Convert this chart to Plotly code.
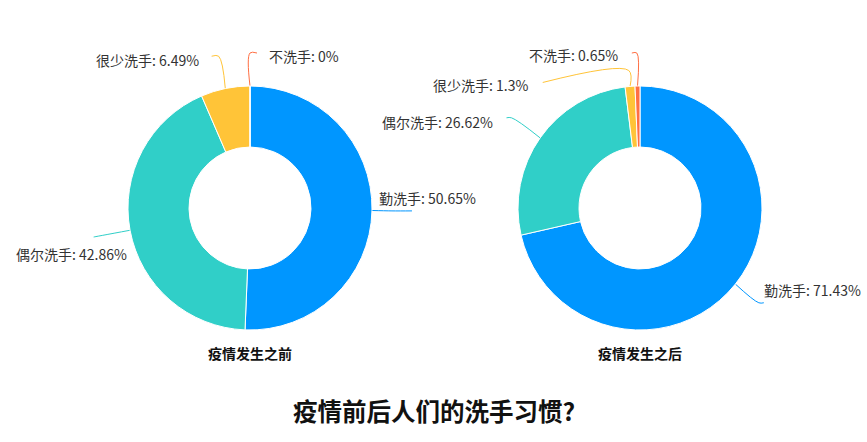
import math
import plotly.graph_objects as go

categories = ["勤洗手", "偶尔洗手", "很少洗手", "不洗手"]
before = [50.65, 42.86, 6.49, 0]
after = [71.43, 26.62, 1.3, 0.65]
subtitles = ["疫情发生之前", "疫情发生之后"]
title = "疫情前后人们的洗手习惯?"

colors = ["#0096FF", "#30CFC8", "#FFC438", "#FF6F43"]
font = "Noto Sans CJK SC, Microsoft YaHei, sans-serif"

W, H = 867, 442
R = 122
centers = [(250, 208), (640, 208)]

# leader lines: radial length, horizontal length, vertical shift of the end
line_geo = [
    [(20, 20, 0), (37, 0, 0), (33, 7, 0), (33, 7, 0)],
    [(30, 5, 0), (35, 5, 0), (16, 86, 12), (33, 5, 0)],
]
# text offset from the end of its leader line
text_off = [
    [(-35, -13), (35, 17), (-11, 4), (10, 3)],
    [(-2, -13), (-11, 4), (-13, 3), (-12, 2)],
]

fig = go.Figure()
annotations = []

for i, values in enumerate([before, after]):
    cx, cy = centers[i]
    fig.add_trace(go.Pie(
        labels=categories, values=values,
        hole=0.5, sort=False, direction="clockwise", rotation=0,
        marker=dict(colors=colors, line=dict(color="white", width=1)),
        textinfo="none", hoverinfo="label+percent", showlegend=False,
        domain=dict(x=[(cx - R) / W, (cx + R) / W],
                    y=[1 - (cy + R) / H, 1 - (cy - R) / H]),
    ))

    total = sum(values)
    cum = 0
    for j, v in enumerate(values):
        t = 2 * math.pi * (cum + v / 2) / total
        cum += v
        s, c = round(math.sin(t), 6), math.cos(t)
        right = s >= 0
        l1, l2, shift = line_geo[i][j]
        x0, y0 = cx + R * s, cy - R * c
        x1, y1 = cx + (R + l1) * s, cy - (R + l1) * c
        x2, y2 = x1 + (l2 if right else -l2), y1 + shift
        fig.add_trace(go.Scatter(
            x=[x0, x1, x2], y=[y0, y1, y2], mode="lines",
            line=dict(color=colors[j], width=1, shape="spline", smoothing=1),
            hoverinfo="skip", showlegend=False,
        ))
        dx, dy = text_off[i][j]
        annotations.append(dict(
            x=x2 + dx, y=y2 + dy, xref="x", yref="y",
            text=f"{categories[j]}: {v:g}%", showarrow=False,
            xanchor="left" if right else "right", yanchor="middle",
            font=dict(family=font, size=14, color="#333"),
        ))

    annotations.append(dict(
        x=cx, y=353, xref="x", yref="y", text=f"<b>{subtitles[i]}</b>",
        showarrow=False, xanchor="center", yanchor="middle",
        font=dict(family=font, size=14, color="#111"),
    ))

annotations.append(dict(
    x=W / 2, y=410, xref="x", yref="y", text=f"<b>{title}</b>",
    showarrow=False, xanchor="center", yanchor="middle",
    font=dict(family=font, size=24.5, color="#111"),
))

fig.update_layout(
    width=W, height=H,
    margin=dict(l=0, r=0, t=0, b=0),
    paper_bgcolor="white", plot_bgcolor="white",
    xaxis=dict(range=[0, W], visible=False, fixedrange=True, domain=[0, 1]),
    yaxis=dict(range=[H, 0], visible=False, fixedrange=True, domain=[0, 1]),
    annotations=annotations,
)

fig.write_html("out.html", config={"displayModeBar": False},
               post_script="document.body.style.margin = '0';")
